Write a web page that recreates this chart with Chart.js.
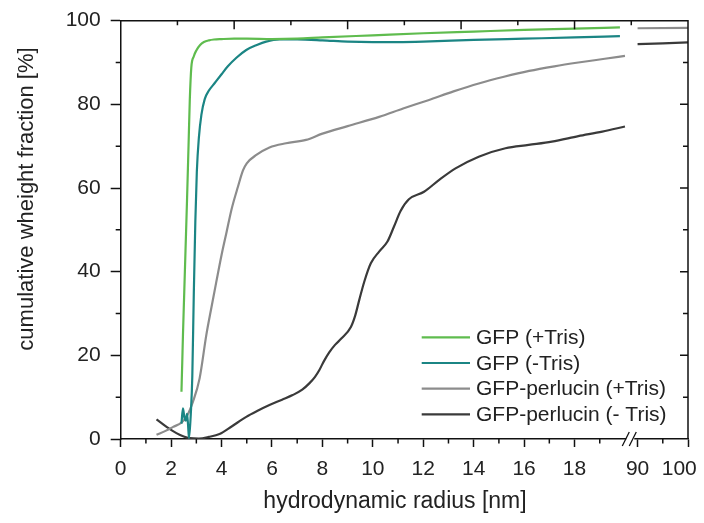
<!DOCTYPE html>
<html>
<head>
<meta charset="utf-8">
<script src="https://cdn.jsdelivr.net/npm/chart.js@4.4.1/dist/chart.umd.min.js"></script>
<style>
    html, body { margin: 0; padding: 0; background: #fff; }
</style>
</head>
<body>
<canvas id="grafico" width="704" height="523"></canvas>
<script>
// nomes e cores das series
const seriesNames = ['GFP (+Tris)', 'GFP (-Tris)', 'GFP-perlucin (+Tris)', 'GFP-perlucin (- Tris)'];
const seriesColors = ['#5fbc4e', '#1b8584', '#8c8c8c', '#3a3a3a'];

// raio hidrodinamico [nm] e fracao cumulativa [%]
const gfpTrisR = [2.41, 2.44, 2.47, 2.52, 2.57, 2.63, 2.69, 2.74, 2.8, 2.9, 3.0, 3.15, 3.3, 3.5, 3.7, 4.0, 4.5, 5.0, 6.0, 7.0, 8.0, 10.0, 12.0, 14.0, 16.0, 18.0, 19.8];
const gfpTrisY = [11.3, 18, 25, 35, 45, 57, 70, 81, 88.8, 91.5, 92.9, 94.2, 94.9, 95.3, 95.5, 95.6, 95.7, 95.7, 95.6, 95.7, 96.0, 96.5, 97.0, 97.4, 97.8, 98.1, 98.4];

const gfpNoTrisR = [2.41, 2.47, 2.53, 2.58, 2.63, 2.67, 2.71, 2.78, 2.84, 2.9, 2.96, 3.02, 3.1, 3.2, 3.33, 3.5, 3.73, 4.0, 4.25, 4.6, 4.98, 5.4, 5.77, 6.3, 7.0, 8.0, 9.0, 10.0, 11.0, 12.0, 14.0, 16.0, 18.0, 19.8];
const gfpNoTrisY = [3.7, 7.3, 5.0, 4.4, 6.0, 3.5, 0.2, 6, 15, 35, 52, 64, 72, 77.5, 81.2, 83.3, 85.1, 87.2, 89.1, 91.2, 93.0, 94.2, 95.0, 95.5, 95.5, 95.3, 95.0, 94.9, 94.9, 95.0, 95.4, 95.7, 96.0, 96.3];

const perlTrisR = [1.42, 1.8, 2.08, 2.41, 2.61, 2.87, 3.13, 3.4, 3.6, 3.79, 4.0, 4.2, 4.4, 4.65, 4.85, 5.0, 5.38, 5.9, 6.56, 7.35, 8.0, 9.0, 10.25, 11.2, 12.2, 13.2, 14.2, 15.2, 16.2, 17.2, 18.15, 19.2, 20.0, 90, 100];
const perlTrisY = [1.0, 2.0, 2.9, 3.9, 5.3, 9, 14.5, 25, 31.5, 37.5, 44, 49.5, 55, 60.3, 64.2, 65.9, 67.9, 69.7, 70.7, 71.5, 73.0, 74.8, 77.0, 79.0, 81.0, 83.1, 85.0, 86.6, 88.0, 89.1, 90.0, 90.9, 91.6, 98.2, 98.3];

const perlNoTrisR = [1.42, 1.82, 2.21, 2.5, 2.74, 3.1, 3.5, 3.92, 4.4, 4.98, 5.45, 5.9, 6.4, 6.82, 7.2, 7.48, 7.7, 7.88, 8.05, 8.27, 8.5, 8.75, 9.13, 9.3, 9.46, 9.66, 9.92, 10.25, 10.58, 10.84, 11.1, 11.43, 12.03, 12.62, 13.28, 14.2, 15.26, 16.18, 17.1, 18.15, 19.1, 20.0, 90, 100];
const perlNoTrisY = [4.7, 2.9, 1.4, 0.6, 0.2, 0.1, 0.5, 1.2, 3.0, 5.3, 6.8, 8.1, 9.4, 10.5, 11.8, 13.3, 14.8, 16.5, 18.5, 20.7, 22.5, 24.0, 26.8, 29.5, 33.2, 37.6, 42.0, 44.8, 47.2, 50.8, 54.5, 57.3, 59.1, 61.9, 64.7, 67.5, 69.5, 70.3, 71.1, 72.4, 73.5, 74.7, 94.4, 94.8];

// ticks dos eixos
const xTicksNm = [0, 1, 2, 3, 4, 5, 6, 7, 8, 9, 10, 11, 12, 13, 14, 15, 16, 17, 18, 19, 90, 95, 100];
const xLabelsNm = [0, 2, 4, 6, 8, 10, 12, 14, 16, 18, 90, 100];
const yTicks = [0, 10, 20, 30, 40, 50, 60, 70, 80, 90, 100];
const yLabels = [0, 20, 40, 60, 80, 100];

const xTitulo = 'hydrodynamic radius [nm]';
const yTitulo = 'cumulative wheight fraction [%]';

// eixo quebrado: 0-20 normal, 90-100 comprimido
const corteInicio = 20, corteFim = 90, posCorte = 20.5, escalaCauda = 0.2;
function paraEixo(r) {
    return r <= corteInicio ? r : posCorte + (r - corteFim) * escalaCauda;
}

function montaPontos(rs, ys) {
    const pts = [];
    for (let i = 0; i < rs.length; i++) {
        if (i > 0 && rs[i - 1] <= corteInicio && rs[i] >= corteFim) {
            pts.push({ x: (corteInicio + posCorte) / 2, y: null });
        }
        pts.push({ x: paraEixo(rs[i]), y: ys[i] });
    }
    return pts;
}

const fonte = 'Liberation Sans, Arial, sans-serif';
const corTexto = '#222';
const corEixo = '#111';

const pares = [[gfpTrisR, gfpTrisY], [gfpNoTrisR, gfpNoTrisY], [perlTrisR, perlTrisY], [perlNoTrisR, perlNoTrisY]];
const datasets = pares.map((p, i) => ({
    label: seriesNames[i],
    data: montaPontos(p[0], p[1]),
    borderColor: seriesColors[i],
    backgroundColor: seriesColors[i],
    borderWidth: 2.2,
    pointRadius: 0,
    cubicInterpolationMode: 'monotone',
    spanGaps: false
}));

// rotulo do tick (o "100" fica um pouco deslocado para a esquerda no original)
function rotuloX(nm) {
    if (!xLabelsNm.includes(nm)) return '';
    return nm === 100 ? '100\u00a0\u00a0\u00a0' : String(nm);
}

// moldura, ticks secundarios, quebra do eixo, titulos e legenda
const extras = {
    id: 'extras',
    afterDraw(chart) {
        const ctx = chart.ctx;
        const a = chart.chartArea;
        const sx = chart.scales.x, sy = chart.scales.y;
        ctx.save();
        ctx.strokeStyle = corEixo;
        ctx.lineWidth = 1.5;

        // borda de cima e da direita
        ctx.beginPath();
        ctx.moveTo(a.left, a.top);
        ctx.lineTo(a.right, a.top);
        ctx.lineTo(a.right, a.bottom);
        ctx.stroke();

        // ticks menores (fora) em x e y
        ctx.beginPath();
        xTicksNm.forEach(v => {
            if (xLabelsNm.includes(v)) return;
            const px = sx.getPixelForValue(paraEixo(v));
            ctx.moveTo(px, a.bottom);
            ctx.lineTo(px, a.bottom + 4.5);
        });
        yTicks.forEach(v => {
            if (yLabels.includes(v)) return;
            const py = sy.getPixelForValue(v);
            ctx.moveTo(a.left, py);
            ctx.lineTo(a.left - 5, py);
        });
        // ticks para dentro: topo (10 divisoes) e direita
        for (let k = 1; k < 10; k++) {
            const px = a.left + (a.right - a.left) * k / 10;
            ctx.moveTo(px, a.top);
            ctx.lineTo(px, a.top + (k % 2 === 0 ? 8.5 : 4.5));
        }
        yTicks.forEach(v => {
            if (v === 0 || v === 100) return;
            const py = sy.getPixelForValue(v);
            ctx.moveTo(a.right, py);
            ctx.lineTo(a.right - (v % 20 === 0 ? 8 : 5), py);
        });
        ctx.stroke();

        // quebra do eixo x
        const xc = sx.getPixelForValue((corteInicio + posCorte) / 2) - 1;
        ctx.fillStyle = '#fff';
        ctx.fillRect(xc - 4, a.bottom - 2, 8, 4);
        ctx.beginPath();
        ctx.lineWidth = 1.3;
        ctx.moveTo(xc - 8, a.bottom + 7);
        ctx.lineTo(xc - 1, a.bottom - 7);
        ctx.moveTo(xc - 1, a.bottom + 7);
        ctx.lineTo(xc + 6, a.bottom - 7);
        ctx.stroke();

        // titulos dos eixos
        ctx.fillStyle = corTexto;
        ctx.textAlign = 'center';
        ctx.textBaseline = 'middle';
        ctx.font = '23px ' + fonte;
        ctx.fillText(xTitulo, 395, 502);
        ctx.save();
        ctx.translate(27, 199);
        ctx.rotate(-Math.PI / 2);
        ctx.font = '22px ' + fonte;
        ctx.fillText(yTitulo, 0, 0);
        ctx.restore();

        // legenda
        ctx.font = '21px ' + fonte;
        ctx.textBaseline = 'middle';
        ctx.textAlign = 'left';
        chart.data.datasets.forEach((ds, i) => {
            const y = 337.3 + i * 25.7;
            ctx.strokeStyle = ds.borderColor;
            ctx.lineWidth = 2.2;
            ctx.beginPath();
            ctx.moveTo(421.7, y);
            ctx.lineTo(470, y);
            ctx.stroke();
            ctx.fillStyle = corTexto;
            ctx.fillText(ds.label, 476, y + 1);
        });
        ctx.restore();
    }
};

new Chart(document.getElementById('grafico'), {
    type: 'line',
    data: { datasets: datasets },
    options: {
        responsive: false,
        animation: false,
        layout: { padding: { top: 20.7, right: 16, left: 0, bottom: 0 } },
        plugins: { legend: { display: false }, tooltip: { enabled: false } },
        scales: {
            x: {
                type: 'linear',
                min: 0,
                max: paraEixo(100),
                afterBuildTicks: s => { s.ticks = xTicksNm.map(v => ({ value: paraEixo(v) })); },
                afterFit: s => { s.height = 84; s.paddingLeft = 0; s.paddingRight = 0; },
                ticks: {
                    autoSkip: false,
                    maxRotation: 0,
                    padding: 10,
                    color: corTexto,
                    font: { family: fonte, size: 21 },
                    callback: (v, i) => rotuloX(xTicksNm[i])
                },
                grid: {
                    drawOnChartArea: false,
                    tickLength: 8,
                    tickWidth: 1.5,
                    tickColor: c => xLabelsNm.includes(xTicksNm[c.index]) ? corEixo : 'rgba(0,0,0,0)'
                },
                border: { display: true, color: corEixo, width: 1.5 }
            },
            y: {
                min: 0,
                max: 100,
                afterBuildTicks: s => { s.ticks = yTicks.map(v => ({ value: v })); },
                afterFit: s => { s.width = 120.7; s.paddingTop = 0; s.paddingBottom = 0; },
                ticks: {
                    autoSkip: false,
                    padding: 10,
                    color: corTexto,
                    font: { family: fonte, size: 21 },
                    callback: v => yLabels.includes(v) ? String(v) : ''
                },
                grid: {
                    drawOnChartArea: false,
                    tickLength: 10,
                    tickWidth: 1.5,
                    tickColor: c => yLabels.includes(c.tick.value) ? corEixo : 'rgba(0,0,0,0)'
                },
                border: { display: true, color: corEixo, width: 1.5 }
            }
        }
    },
    plugins: [extras]
});
</script>
</body>
</html>
